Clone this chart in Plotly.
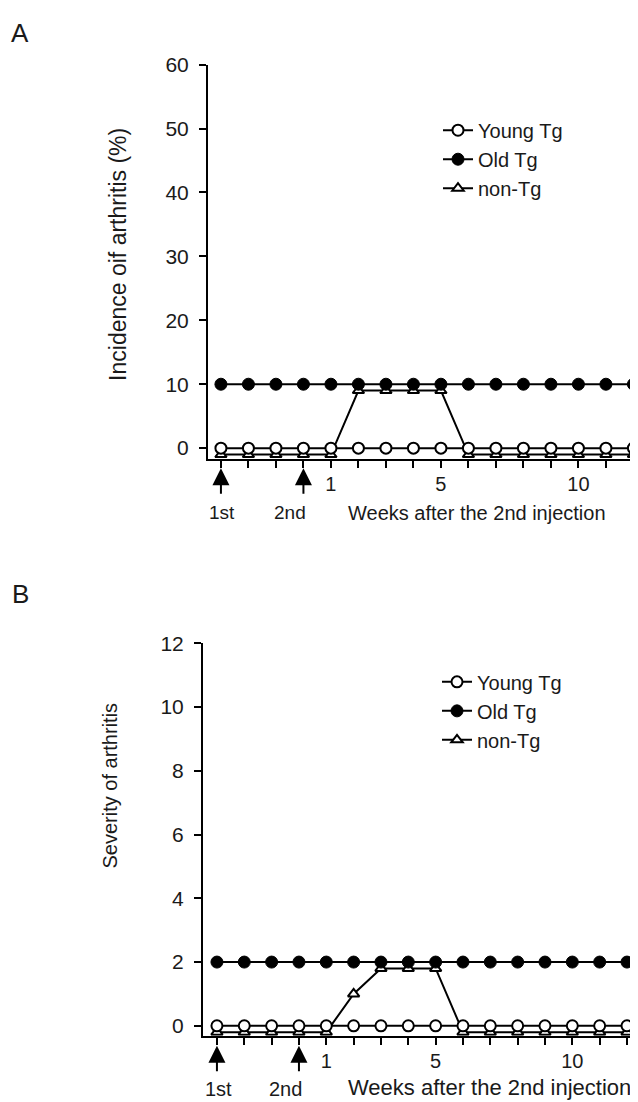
import plotly.graph_objects as go

# Measured placement of the figure in the photographed page:
# horizontally the figure starts 8px in; vertically it appears at T + S*y.
OFFX = 8
S, T = 0.987, 20.4
W, H = 630, 1100

weeks = [-3, -2, -1, 0, 1, 2, 3, 4, 5, 6, 7, 8, 9, 10, 11, 12]
week_ticktext = ["", "", "", "", "1", "", "", "", "5", "", "", "", "", "10", "", ""]

# Panel A: incidence (%)
young_A = [0, 0, 0, 0, 0, 0, 0, 0, 0, 0, 0, 0, 0, 0, 0, 0]
old_A = [10, 10, 10, 10, 10, 10, 10, 10, 10, 10, 10, 10, 10, 10, 10, 10]
nontg_A = [-1, -1, -1, -1, -1, 9, 9, 9, 9, -1, -1, -1, -1, -1, -1, -1]

# Panel B: severity
young_B = [0, 0, 0, 0, 0, 0, 0, 0, 0, 0, 0, 0, 0, 0, 0, 0]
old_B = [2, 2, 2, 2, 2, 2, 2, 2, 2, 2, 2, 2, 2, 2, 2, 2]
nontg_B = [-0.2, -0.2, -0.2, -0.2, -0.2, 1.0, 1.8, 1.8, 1.8, -0.2, -0.2, -0.2, -0.2, -0.2, -0.2, -0.2]

series_names = ["Young Tg", "Old Tg", "non-Tg"]
yticks_A = [0, 10, 20, 30, 40, 50, 60]
yticks_B = [0, 2, 4, 6, 8, 10, 12]

FONT = "Liberation Sans, Arial, sans-serif"
BLK = "black"
TXT = "#1a1a1a"

def px_x(p):
    return min(1.0, max(0.0, (p - OFFX) / W))

def px_y(p):
    v = 1 - ((p - T) / S) / H
    return min(1.0, max(0.0, v))

fig = go.Figure()

def add_panel(xa, ya, leg, young, old, nontg):
    fig.add_trace(go.Scatter(
        x=weeks, y=nontg, name=series_names[2], mode="lines+markers",
        xaxis=xa, yaxis=ya, legend=leg, legendrank=3,
        line=dict(color=BLK, width=2),
        marker=dict(symbol="triangle-up", size=10, color="white",
                    line=dict(color=BLK, width=2))))
    fig.add_trace(go.Scatter(
        x=weeks, y=young, name=series_names[0], mode="lines+markers",
        xaxis=xa, yaxis=ya, legend=leg, legendrank=1,
        line=dict(color=BLK, width=2),
        marker=dict(symbol="circle", size=11, color="white",
                    line=dict(color=BLK, width=2))))
    fig.add_trace(go.Scatter(
        x=weeks, y=old, name=series_names[1], mode="lines+markers",
        xaxis=xa, yaxis=ya, legend=leg, legendrank=2,
        line=dict(color=BLK, width=2),
        marker=dict(symbol="circle", size=12, color=BLK,
                    line=dict(color=BLK, width=1))))

add_panel("x", "y", "legend", young_A, old_A, nontg_A)
add_panel("x2", "y2", "legend2", young_B, old_B, nontg_B)

axis_common = dict(showline=True, linecolor=BLK, linewidth=2, ticks="outside",
                   ticklen=7, tickwidth=2, tickcolor=BLK, showgrid=False,
                   zeroline=False)
xfont = dict(family=FONT, size=20, color=TXT)
yfont = dict(family=FONT, size=21, color=TXT)

fig.update_layout(
    width=W, height=H, autosize=False,
    margin=dict(l=0, r=0, t=0, b=0),
    paper_bgcolor="white", plot_bgcolor="white",
    font=dict(family=FONT, color=TXT),
    xaxis=dict(domain=[px_x(208), px_x(637)], range=[-3.47, 12.13],
               tickvals=weeks, ticktext=week_ticktext, anchor="y",
               ticklabelstandoff=-1, tickfont=xfont, **axis_common),
    yaxis=dict(domain=[px_y(459), px_y(65)], range=[-1.72, 60],
               tickvals=yticks_A, anchor="x", ticklabelstandoff=6,
               tickfont=yfont, **axis_common),
    xaxis2=dict(domain=[px_x(203), px_x(630)], range=[-3.51, 12.11],
                tickvals=weeks, ticktext=week_ticktext, anchor="y2",
                ticklabelstandoff=-1, tickfont=xfont, **axis_common),
    yaxis2=dict(domain=[px_y(1035), px_y(643)], range=[-0.314, 12],
                tickvals=yticks_B, anchor="x2", ticklabelstandoff=6,
                tickfont=yfont, **axis_common),
    showlegend=True,
    legend=dict(x=px_x(438), y=px_y(111), xanchor="left", yanchor="top",
                bgcolor="rgba(0,0,0,0)", font=dict(family=FONT, size=20, color=TXT),
                traceorder="normal"),
    legend2=dict(x=px_x(437), y=px_y(662), xanchor="left", yanchor="top",
                 bgcolor="rgba(0,0,0,0)", font=dict(family=FONT, size=20, color=TXT),
                 traceorder="normal"),
)

ann = []
def txt(x, y, s, size, **kw):
    d = dict(x=px_x(x), y=px_y(y), xref="paper", yref="paper", text=s,
             showarrow=False, xanchor="center", yanchor="middle",
             font=dict(family=FONT, size=size, color=TXT))
    d.update(kw)
    ann.append(d)

# panel letters (A kept just inside the drawable area)
txt(20, 33, "A", 26)
txt(20, 594, "B", 26)
# y-axis titles
txt(118, 255, "Incidence oif arthritis (%)", 23, textangle=-90)
txt(110, 785, "Severity of arthritis", 20, textangle=-90)
# x labels
txt(222, 512, "1st", 19)
txt(290, 512, "2nd", 19)
txt(477, 513, "Weeks after the 2nd injection", 20)
txt(218, 1088, "1st", 20)
txt(285, 1088, "2nd", 20)
txt(490, 1087, "Weeks after the 2nd injection", 22)

# injection arrows
for xr, tip in (("x", 468), ("x2", 1045)):
    for wk in (weeks[0], weeks[3]):
        ann.append(dict(x=wk, y=px_y(tip), xref=xr, yref="paper", text="",
                        showarrow=True, ax=0, ay=27, arrowhead=2, arrowsize=1.7,
                        arrowwidth=2, arrowcolor=BLK, standoff=0))

fig.update_layout(annotations=ann)
fig.write_html("out.html")
